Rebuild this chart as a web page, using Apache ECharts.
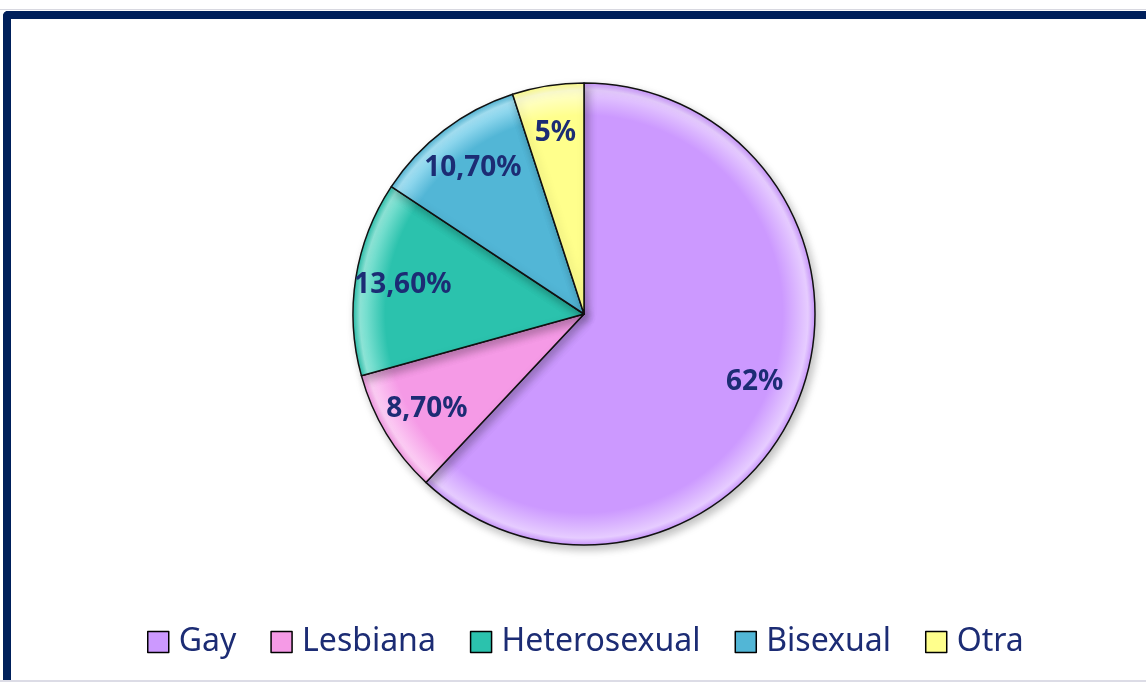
<!DOCTYPE html>
<html>
<head>
<meta charset="utf-8">
<script src="https://cdn.jsdelivr.net/npm/echarts@6/dist/echarts.min.js"></script>
<style>
  html, body { margin: 0; padding: 0; background: #fff; }
  #wrap { position: relative; width: 1146px; height: 683px; overflow: hidden; }
  /* marco azul oscuro (superior + izquierdo) */
  #frame {
    position: absolute; left: 3px; top: 11px; width: 1200px; height: 669px;
    border-top: 8px solid #00205b; border-left: 8px solid #00205b;
    border-top-left-radius: 5px; box-sizing: border-box;
  }
  #topline { position: absolute; left: 0; top: 9px; width: 1146px; height: 1px; background: #d8d8e0; }
  #bottomline { position: absolute; left: 0; top: 680px; width: 1146px; height: 2px; background: #dcdce6; }
  #chart { position: absolute; left: 0; top: 0; width: 1146px; height: 683px; }
</style>
</head>
<body>
<div id="wrap">
  <div id="topline"></div>
  <div id="frame"></div>
  <div id="bottomline"></div>
  <div id="chart"></div>
</div>
<script>
// --- DATOS ---
const categorias = ['Gay', 'Lesbiana', 'Heterosexual', 'Bisexual', 'Otra'];
const valores = [62, 8.7, 13.6, 10.7, 5];
const etiquetas = ['62%', '8,70%', '13,60%', '10,70%', '5%'];
const colores = ['#cc99ff', '#f59ae6', '#2bc2ad', '#52b6d6', '#ffff8c'];
const claros = ['#e6ccff', '#fccdf4', '#8fe8da', '#a6e4f7', '#ffffd0'];

const CX = 584, CY = 314, R = 231;
const navy = '#1c2c74';

// gradiente radial para simular el biselado de los sectores
function bisel(i) {
    return {
        type: 'radial', x: CX, y: CY, r: R, global: true,
        colorStops: [
            { offset: 0, color: colores[i] },
            { offset: 0.86, color: colores[i] },
            { offset: 0.97, color: claros[i] },
            { offset: 1, color: colores[i] }
        ]
    };
}

const chart = echarts.init(document.getElementById('chart'), null, { renderer: 'canvas' });

chart.setOption({
    animation: false,
    backgroundColor: 'transparent',
    legend: {
        left: 142,
        top: 621,
        itemWidth: 21,
        itemHeight: 21,
        itemGap: 34,
        icon: 'rect',
        selectedMode: false,
        textStyle: { color: navy, fontSize: 32, fontFamily: 'Noto Sans', padding: [0, 0, 0, 5] },
        data: categorias.map((c, i) => ({
            name: c,
            itemStyle: { color: bisel(i), borderColor: '#000', borderWidth: 1.5 }
        }))
    },
    series: [
        {
            name: 'sectores',
            type: 'pie',
            center: [CX, CY],
            radius: [0, R],
            startAngle: 90,
            clockwise: true,
            silent: true,
            label: { show: false },
            labelLine: { show: false },
            itemStyle: {
                borderColor: '#111',
                borderWidth: 1.5,
                shadowBlur: 8,
                shadowOffsetX: 3,
                shadowOffsetY: 4,
                shadowColor: 'rgba(0,0,0,0.25)'
            },
            data: categorias.map((c, i) => ({
                name: c,
                value: valores[i],
                itemStyle: { color: bisel(i) }
            }))
        },
        {
            // serie transparente solo para colocar las etiquetas más hacia afuera
            name: 'etiquetas',
            type: 'pie',
            center: [CX, CY],
            radius: [130, R],
            startAngle: 90,
            clockwise: true,
            silent: true,
            itemStyle: { color: 'rgba(0,0,0,0)', borderWidth: 0 },
            label: {
                show: true,
                position: 'inside',
                color: navy,
                fontSize: 28,
                fontWeight: 'bold',
                fontFamily: 'Noto Sans',
                formatter: p => etiquetas[p.dataIndex]
            },
            labelLine: { show: false },
            data: categorias.map((c, i) => ({ name: c, value: valores[i] }))
        }
    ]
});
</script>
</body>
</html>
